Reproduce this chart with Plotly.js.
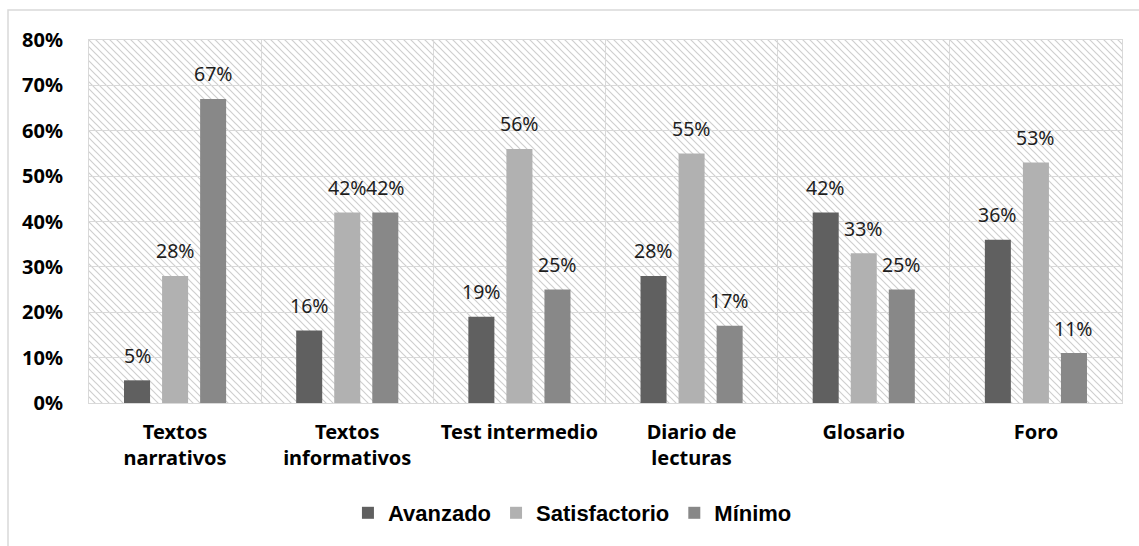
<!DOCTYPE html>
<html>
<head>
<meta charset="utf-8">
<script src="https://cdn.plot.ly/plotly-3.0.1.min.js"></script>
<style>html,body{margin:0;padding:0;background:#fff;}#chart{width:1139px;height:546px;}</style>
</head>
<body>
<div id="chart"></div>
<script>
const categories = ["Textos<br>narrativos", "Textos<br>informativos", "Test intermedio", "Diario de<br>lecturas", "Glosario", "Foro"];
const seriesNames = ["Avanzado", "Satisfactorio", "Mínimo"];
const avanzado = [0.05, 0.16, 0.19, 0.28, 0.42, 0.36];
const satisfactorio = [0.28, 0.42, 0.56, 0.55, 0.33, 0.53];
const minimo = [0.67, 0.42, 0.25, 0.17, 0.25, 0.11];
const colors = ["#606060", "#b1b1b1", "#888888"];
const yTickVals = [0, 0.1, 0.2, 0.3, 0.4, 0.5, 0.6, 0.7, 0.8];

const W = 1139, H = 546;
const M = {l: 89, r: 17, t: 40, b: 143};
const PW = W - M.l - M.r, PH = H - M.t - M.b;

const allSeries = [avanzado, satisfactorio, minimo];
const traces = allSeries.map((vals, i) => ({
  type: 'bar', name: seriesNames[i], x: categories, y: vals,
  marker: {color: colors[i]}, hoverinfo: 'skip'
}));

const slot = PW / categories.length * (1 - 0.337) / 3;
const annotations = [];
allSeries.forEach((vals, i) => {
  vals.forEach((v, j) => {
    annotations.push({
      x: categories[j], y: v, xref: 'x', yref: 'y',
      text: Math.round(v * 100) + '%', showarrow: false,
      xshift: (i - 1) * slot, yshift: 25, yanchor: 'middle',
      font: {family: 'Noto Sans', size: 19.5, color: '#1e1e1e'}
    });
  });
});

const svg = `<svg xmlns="http://www.w3.org/2000/svg" width="${PW}" height="${PH}" viewBox="0 0 ${PW} ${PH}" preserveAspectRatio="none"><defs><pattern id="p" width="7" height="7" patternUnits="userSpaceOnUse"><path d="M0,0L7,7M-1,6L1,8M6,-1L8,1" stroke="#cfcfcf" stroke-width="1.2"/></pattern></defs><rect width="100%" height="100%" fill="url(#p)"/></svg>`;
const src = 'data:image/svg+xml;base64,' + btoa(svg);

const layout = {
  width: W, height: H,
  margin: M,
  paper_bgcolor: '#ffffff', plot_bgcolor: 'rgba(0,0,0,0)',
  barmode: 'group', bargap: 0.337, bargroupgap: 0.316,
  showlegend: true,
  legend: {orientation: 'h', x: 0.468, xanchor: 'center', y: (M.t + PH - 513) / PH, yanchor: 'middle',
    font: {family: 'Liberation Sans, Arial', size: 22, color: '#000', weight: 'bold'}, itemclick: false},
  xaxis: {type: 'category', showgrid: false, showline: true, linecolor: '#d9d9d9', mirror: true,
    ticks: '', ticklabelstandoff: 11,
    tickfont: {family: 'Noto Sans', size: 20, color: '#000', weight: 'bold'}},
  xaxis2: {overlaying: 'x', range: [-0.5, categories.length - 0.5], tickvals: categories.slice(1).map((c, i) => i + 0.5),
    showgrid: true, gridcolor: '#d9d9d9', gridwidth: 1, showticklabels: false, ticks: '', zeroline: false},
  yaxis: {range: [0, 0.8], tickvals: yTickVals, tickformat: '.0%', showgrid: true, gridcolor: '#d9d9d9',
    zeroline: false, showline: true, linecolor: '#d9d9d9', mirror: true, ticks: '', ticklabelstandoff: 21,
    tickfont: {family: 'Noto Sans', size: 20, color: '#000', weight: 'bold'}},
  annotations: annotations,
  images: [{source: src, xref: 'paper', yref: 'paper', x: 0, y: 1, sizex: 1, sizey: 1,
    xanchor: 'left', yanchor: 'top', sizing: 'stretch', layer: 'below'}],
  shapes: [{type: 'rect', xref: 'paper', yref: 'paper',
    x0: (8 - M.l) / PW, x1: (W + 20 - M.l) / PW, y0: (M.t + PH - (H + 20)) / PH, y1: (M.t + PH - 10) / PH,
    line: {color: '#d9d9d9', width: 1.5}, fillcolor: 'rgba(0,0,0,0)', layer: 'below'}]
};

// invisible helper trace so the overlaid category-boundary grid axis is drawn
traces.push({type: 'scatter', x: [0], y: [0], xaxis: 'x2', yaxis: 'y', mode: 'markers',
  marker: {opacity: 0}, showlegend: false, hoverinfo: 'skip'});

Plotly.newPlot('chart', traces, layout, {staticPlot: true});
</script>
</body>
</html>
